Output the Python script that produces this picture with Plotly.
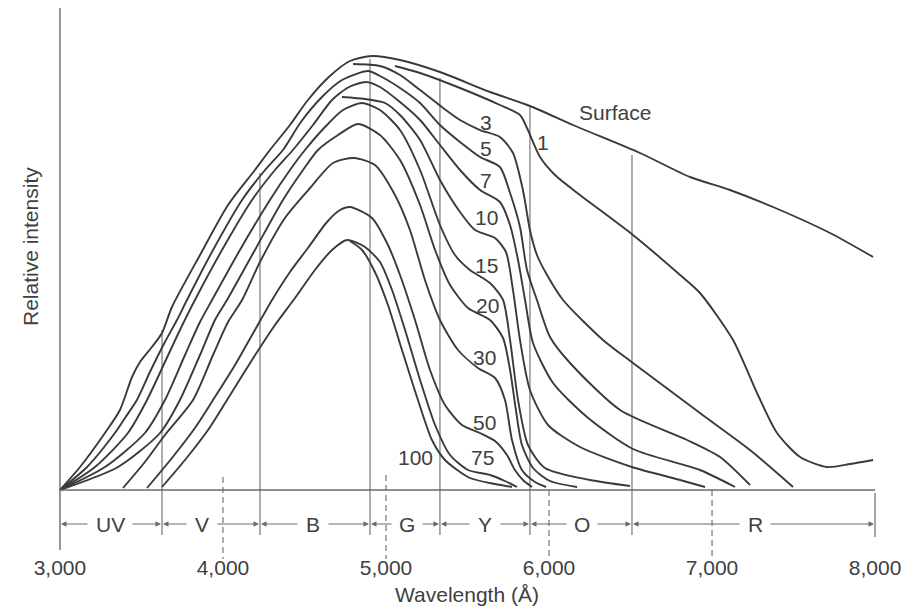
import plotly.graph_objects as go

# Wavelength (Å) and relative intensity (arbitrary units) for each depth (m)
wl_surface = [3000, 3123, 3276, 3368, 3442, 3491, 3564, 3626, 3687, 3859, 4031, 4196, 4288, 4411, 4521, 4656,
              4779, 4914, 5086, 5331, 5638, 5883, 6147, 6558, 6865, 7110, 7374, 7724, 7988]
int_surface = [0, 23, 57, 80, 113, 128, 143, 157, 183, 235, 285, 320, 340, 365, 390, 414,
               429, 434, 430, 418, 398, 384, 365, 337, 313, 300, 283, 257, 233]

wl_1 = [5055, 5209, 5454, 5699, 5822, 5865, 5945, 6037, 6190, 6515, 6804, 6926, 7129, 7276, 7399, 7540, 7705, 7847, 7988]
int_1 = [424, 417, 402, 385, 375, 362, 333, 315, 295, 255, 215, 197, 150, 97, 57, 33, 23, 26, 30]

wl_3 = [4798, 4963, 5086, 5209, 5350, 5454, 5577, 5699, 5779, 5840, 5883, 5926, 5988, 6086, 6331, 6515, 6926, 7233, 7497]
int_3 = [426, 424, 415, 400, 382, 370, 360, 353, 337, 300, 260, 235, 215, 190, 150, 127, 77, 40, 3]

wl_5 = [3000, 3166, 3337, 3399, 3472, 3552, 3644, 3718, 3779, 3939, 4117, 4258, 4368, 4478, 4607, 4730, 4890,
        4963, 5086, 5209, 5331, 5454, 5577, 5699, 5761, 5822, 5865, 5926, 6006, 6129, 6436, 6847, 7049, 7233]
int_5 = [0, 23, 57, 72, 90, 118, 148, 170, 190, 240, 290, 320, 340, 368, 393, 410, 419,
         414, 402, 387, 365, 348, 333, 323, 297, 263, 220, 190, 153, 127, 80, 50, 33, 5]

wl_7 = [3000, 3215, 3417, 3534, 3644, 3736, 3828, 3994, 4178, 4319, 4429, 4552, 4669, 4773, 4877,
        4963, 5086, 5209, 5331, 5454, 5577, 5699, 5761, 5810, 5853, 5902, 6025, 6233, 6515, 6926, 7141]
int_7 = [0, 23, 57, 90, 128, 160, 190, 240, 290, 320, 340, 365, 390, 403, 408,
         403, 388, 370, 345, 320, 300, 288, 265, 230, 190, 147, 107, 73, 41, 20, 3]

wl_10 = [4730, 4871, 4994, 5086, 5209, 5331, 5454, 5546, 5669, 5736, 5779, 5822, 5883, 5994, 6190, 6509, 6804, 6957]
int_10 = [393, 391, 387, 375, 350, 310, 278, 260, 252, 238, 200, 150, 100, 65, 43, 23, 10, 3]

wl_15 = [3000, 3276, 3521, 3644, 3767, 3859, 3933, 4104, 4288, 4411, 4503, 4626, 4736, 4853,
         4963, 5086, 5209, 5331, 5423, 5515, 5638, 5718, 5761, 5810, 5871, 5975, 6252, 6497]
int_15 = [0, 23, 57, 90, 135, 168, 190, 240, 290, 320, 340, 363, 380, 387,
          380, 360, 320, 265, 235, 220, 207, 190, 150, 90, 45, 22, 10, 4]

wl_20 = [3000, 3356, 3614, 3736, 3859, 3951, 4025, 4196, 4368, 4491, 4583, 4706, 4828,
         4963, 5086, 5209, 5301, 5393, 5503, 5638, 5718, 5761, 5797, 5834, 5902, 6006, 6172]
int_20 = [0, 23, 57, 90, 135, 170, 190, 240, 290, 320, 340, 355, 366,
          355, 330, 285, 240, 205, 182, 170, 152, 120, 80, 45, 22, 9, 3]

wl_30 = [3387, 3521, 3644, 3816, 3939, 4031, 4117, 4227, 4380, 4534, 4675, 4804,
         4932, 5055, 5147, 5239, 5331, 5442, 5564, 5669, 5730, 5773, 5834, 5914, 5982]
int_30 = [2, 28, 55, 90, 135, 168, 190, 228, 272, 302, 327, 332,
          325, 295, 260, 210, 170, 140, 122, 112, 90, 50, 20, 8, 3]

wl_50 = [3534, 3687, 3828, 3939, 4074, 4196, 4301, 4411, 4521, 4638, 4718, 4779,
         4914, 5012, 5086, 5178, 5270, 5362, 5466, 5577, 5669, 5742, 5791, 5840, 5896]
int_50 = [2, 32, 62, 90, 125, 160, 190, 218, 242, 268, 280, 283,
          272, 245, 215, 170, 120, 85, 65, 57, 49, 35, 20, 10, 3]

wl_75 = [3626, 3767, 3908, 4025, 4178, 4319, 4442, 4564, 4669, 4761,
         4871, 4963, 5037, 5117, 5209, 5301, 5393, 5503, 5638, 5730, 5804]
int_75 = [3, 30, 60, 90, 130, 165, 192, 220, 240, 250,
          243, 228, 200, 160, 110, 65, 35, 20, 15, 9, 3]

wl_100 = [4779, 4853, 4932, 5012, 5098, 5196, 5282, 5362, 5515, 5669, 5773]
int_100 = [249, 240, 218, 185, 140, 90, 50, 30, 12, 6, 3]

# curve labels
depth_labels = ['Surface', '1', '3', '5', '7', '10', '15', '20', '30', '50', '75', '100']
label_wl = [6405, 5963, 5614, 5614, 5614, 5614, 5614, 5620, 5607, 5607, 5589, 5178]
label_int = [378, 348, 368, 342, 310, 273, 225, 185, 133, 68, 33, 33]

# colour bands below the axis
band_names = ['UV', 'V', 'B', 'G', 'Y', 'O', 'R']
band_edges = [3000, 3626, 4227, 4902, 5331, 5883, 6509, 8000]
band_label_wl = [3307, 3871, 4552, 5129, 5607, 6202, 7264]
edge_tops = [160, 317, 431, 412, 383, 335]   # height of the inner band dividers

tick_wl = [3000, 4000, 5000, 6000, 7000, 8000]

curves = [(wl_surface, int_surface), (wl_1, int_1), (wl_3, int_3), (wl_5, int_5), (wl_7, int_7),
          (wl_10, int_10), (wl_15, int_15), (wl_20, int_20), (wl_30, int_30), (wl_50, int_50),
          (wl_75, int_75), (wl_100, int_100)]

INK = '#3a3a3a'
GUIDE = '#6a6a6a'
BAND_Y = -34
PX_PER_A = 0.163

fig = go.Figure()
for (wl, inten), name in zip(curves, depth_labels):
    fig.add_trace(go.Scatter(x=wl, y=inten, mode='lines', name=name,
                             line=dict(color=INK, width=1.9, shape='spline', smoothing=0.7),
                             hoverinfo='skip'))

shapes = []
# axes
shapes.append(dict(type='line', x0=3000, x1=3000, y0=-60, y1=482, line=dict(color=GUIDE, width=1.4)))
shapes.append(dict(type='line', x0=3000, x1=8000, y0=0, y1=0, line=dict(color=GUIDE, width=1.4)))
shapes.append(dict(type='line', x0=8000, x1=8000, y0=-3, y1=-47, line=dict(color=GUIDE, width=1.2)))
# band dividers
for edge, top in zip(band_edges[1:-1], edge_tops):
    shapes.append(dict(type='line', x0=edge, x1=edge, y0=-45, y1=top, layer='below',
                       line=dict(color=GUIDE, width=1.1)))
# dashed ticks at round wavelengths
dash_top = {4000: 13, 5000: 15, 6000: 0, 7000: 0}
for wl in tick_wl[1:-1]:
    shapes.append(dict(type='line', x0=wl, x1=wl, y0=dash_top[wl], y1=-69, layer='below',
                       line=dict(color=GUIDE, width=1.1, dash='6px,4px')))

annotations = []
for txt, x, y in zip(depth_labels, label_wl, label_int):
    annotations.append(dict(x=x, y=y, text=txt, showarrow=False, xanchor='center', yanchor='middle'))

for name, lo, hi, cx in zip(band_names, band_edges[:-1], band_edges[1:], band_label_wl):
    annotations.append(dict(x=cx, y=BAND_Y, text=name, showarrow=False, xanchor='center', yanchor='middle'))
    half = (len(name) * 7 + 7) / PX_PER_A
    for head, tail in ((lo, cx - half), (hi, cx + half)):
        annotations.append(dict(x=head, y=BAND_Y, ax=tail, ay=BAND_Y, xref='x', yref='y',
                                axref='x', ayref='y', text='', showarrow=True, arrowhead=2,
                                arrowsize=1.1, arrowwidth=1, arrowcolor=GUIDE, standoff=1))

annotations.append(dict(x=0.4994, y=-0.0653, xref='paper', yref='paper', text='Wavelength (Å)',
                        showarrow=False, xanchor='center', yanchor='middle'))
annotations.append(dict(x=-0.0342, y=0.568, xref='paper', yref='paper', text='Relative intensity',
                        textangle=-90, showarrow=False, xanchor='center', yanchor='middle'))

# the page puts the figure 8px in from the top-left corner, so margins are trimmed to compensate
fig.update_layout(
    width=909, height=614,
    margin=dict(l=50, r=40, t=0, b=63),
    plot_bgcolor='white', paper_bgcolor='white',
    showlegend=False,
    font=dict(family='Liberation Sans, Arial, sans-serif', size=21, color='#404040'),
    shapes=shapes, annotations=annotations,
    xaxis=dict(range=[2988, 8012], tickvals=tick_wl, tickformat=',d', ticks='', ticklabelstandoff=-6,
               showgrid=False, zeroline=False, showline=False, fixedrange=True),
    yaxis=dict(range=[-69, 482], visible=False, showgrid=False, zeroline=False, fixedrange=True),
)

fig.write_html("out.html")
